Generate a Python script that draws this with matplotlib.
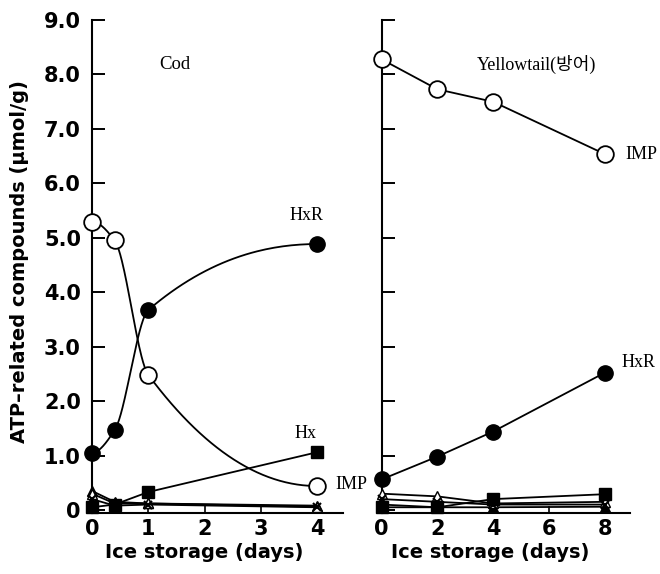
import numpy as np
import matplotlib
matplotlib.use("Agg")
import matplotlib.pyplot as plt

# ATP-related compounds (umol/g) during ice storage
cod_days = [0, 0.4, 1, 4]
cod_imp = [5.29, 4.95, 2.48, 0.44]
cod_hxr = [1.05, 1.46, 3.67, 4.88]
cod_hx = [0.05, 0.10, 0.33, 1.06]
cod_atp = [0.35, 0.15, 0.12, 0.08]
cod_adp = [0.30, 0.12, 0.12, 0.06]
cod_amp = [0.20, 0.08, 0.10, 0.05]

yt_days = [0, 2, 4, 8]
yt_imp = [8.27, 7.72, 7.49, 6.53]
yt_hxr = [0.56, 0.98, 1.44, 2.52]
yt_hx = [0.05, 0.05, 0.20, 0.29]
yt_adp = [0.30, 0.25, 0.12, 0.15]
yt_amp = [0.20, 0.15, 0.10, 0.10]
yt_atp = [0.10, 0.05, 0.05, 0.06]

y_ticks = [0, 1, 2, 3, 4, 5, 6, 7, 8, 9]
y_ticklabels = ["0", "1.0", "2.0", "3.0", "4.0", "5.0", "6.0", "7.0", "8.0", "9.0"]
cod_xticks = [0, 1, 2, 3, 4]
yt_xticks = [0, 2, 4, 6, 8]

SERIF = ["Liberation Serif", "Noto Sans CJK KR"]


def pchip_curve(x, y, n=60):
    """Monotone cubic (Fritsch-Carlson) path through the points, for smooth connectors."""
    x = np.asarray(x, float)
    y = np.asarray(y, float)
    h = np.diff(x)
    m = np.diff(y) / h
    d = np.zeros_like(y)
    for k in range(1, len(x) - 1):
        if m[k - 1] * m[k] > 0:
            w1 = 2 * h[k] + h[k - 1]
            w2 = h[k] + 2 * h[k - 1]
            d[k] = (w1 + w2) / (w1 / m[k - 1] + w2 / m[k])

    def _end(h0, h1, m0, m1):
        dd = ((2 * h0 + h1) * m0 - h0 * m1) / (h0 + h1)
        if np.sign(dd) != np.sign(m0):
            return 0.0
        if np.sign(m0) != np.sign(m1) and abs(dd) > abs(3 * m0):
            return 3 * m0
        return dd

    d[0] = _end(h[0], h[1], m[0], m[1])
    d[-1] = _end(h[-1], h[-2], m[-1], m[-2])

    xs, ys = [], []
    t = np.linspace(0, 1, n)
    for k in range(len(h)):
        h00 = 2 * t**3 - 3 * t**2 + 1
        h10 = t**3 - 2 * t**2 + t
        h01 = -2 * t**3 + 3 * t**2
        h11 = t**3 - t**2
        xs.append(x[k] + t * h[k])
        ys.append(h00 * y[k] + h10 * h[k] * d[k] + h01 * y[k + 1] + h11 * h[k] * d[k + 1])
    return np.concatenate(xs), np.concatenate(ys)


def style_axis(ax, xlim, xticks, show_ylabels):
    ax.set_xlim(*xlim)
    ax.set_ylim(-0.055, 9.0)
    for side in ("top", "right"):
        ax.spines[side].set_visible(False)
    for side in ("left", "bottom"):
        ax.spines[side].set_linewidth(1.5)
    ax.set_yticks(y_ticks)
    ax.set_xticks(xticks)
    ax.set_xticklabels([str(v) for v in xticks], fontsize=15, fontweight="bold")
    ax.tick_params(axis="y", direction="in", length=9, width=1.4, pad=8)
    ax.tick_params(axis="x", direction="in", length=5, width=1.2, pad=4)
    if show_ylabels:
        ax.set_yticklabels(y_ticklabels, fontsize=15, fontweight="bold")
    else:
        ax.set_yticklabels([])
    ax.set_xlabel("Ice storage (days)", fontsize=14, fontweight="bold")


fig = plt.figure(figsize=(6.6, 5.74), dpi=100)
ax1 = fig.add_axes([92 / 660, 61 / 574, 251 / 660, 493.5 / 574])
ax2 = fig.add_axes([381.5 / 660, 61 / 574, 248.5 / 660, 493.5 / 574])

lw = 1.3
kw_line = dict(color="black", lw=lw, clip_on=False)
kw_open = dict(ls="none", marker="o", ms=12, mfc="white", mec="black", mew=1.3,
               clip_on=False, zorder=5)
kw_fill = dict(ls="none", marker="o", ms=11, mfc="black", mec="black",
               clip_on=False, zorder=5)
kw_sq = dict(marker="s", ms=8, mfc="black", mec="black", color="black", lw=lw,
             clip_on=False, zorder=4)
kw_atp = dict(marker="^", ms=7, mfc="black", mec="black", color="black", lw=lw,
              clip_on=False, zorder=3)
kw_adp = dict(marker="^", ms=7, mfc="white", mec="black", color="black", lw=lw,
              clip_on=False, zorder=3)
kw_amp = dict(marker="x", ms=6, mew=1.5, color="black", lw=lw, clip_on=False, zorder=3)

# Cod: smooth curves for IMP and HxR
cx, cy = pchip_curve(cod_days, cod_imp)
ax1.plot(cx, cy, **kw_line)
ax1.plot(cod_days, cod_imp, **kw_open)
cx, cy = pchip_curve(cod_days, cod_hxr)
ax1.plot(cx, cy, **kw_line)
ax1.plot(cod_days, cod_hxr, **kw_fill)
ax1.plot(cod_days, cod_atp, **kw_atp)
ax1.plot(cod_days, cod_adp, **kw_adp)
ax1.plot(cod_days, cod_amp, **kw_amp)
ax1.plot(cod_days, cod_hx, **kw_sq)

ax1.text(1.48, 8.17, "Cod", family=SERIF, fontsize=13.5, ha="center", va="center")
ax1.text(3.82, 5.41, "HxR", family=SERIF, fontsize=13, ha="center", va="center")
ax1.text(3.79, 1.41, "Hx", family=SERIF, fontsize=13, ha="center", va="center")
ax1.text(4.32, 0.46, "IMP", family=SERIF, fontsize=13, ha="left", va="center")

# Yellowtail
ax2.plot(yt_days, yt_imp, **kw_line)
ax2.plot(yt_days, yt_imp, **kw_open)
ax2.plot(yt_days, yt_hxr, **kw_line)
ax2.plot(yt_days, yt_hxr, **kw_fill)
ax2.plot(yt_days, yt_atp, **kw_atp)
ax2.plot(yt_days, yt_adp, **kw_adp)
ax2.plot(yt_days, yt_amp, **kw_amp)
ax2.plot(yt_days, yt_hx, **kw_sq)

ax2.text(5.57, 8.17, "Yellowtail(방어)", family=SERIF, fontsize=13, ha="center", va="center")
ax2.text(8.72, 6.53, "IMP", family=SERIF, fontsize=13, ha="left", va="center")
ax2.text(8.61, 2.70, "HxR", family=SERIF, fontsize=13, ha="left", va="center")

style_axis(ax1, (0, 4.46), cod_xticks, True)
style_axis(ax2, (0, 8.9), yt_xticks, False)
ax1.xaxis.set_label_coords(0.446, -0.06)
ax2.xaxis.set_label_coords(0.437, -0.06)

fig.text(20 / 660, 1 - 262 / 574, "ATP\u2013related compounds (\u03bcmol/g)",
         rotation=90, fontsize=14, fontweight="bold", ha="center", va="center")

fig.savefig("out.png", dpi=100)
